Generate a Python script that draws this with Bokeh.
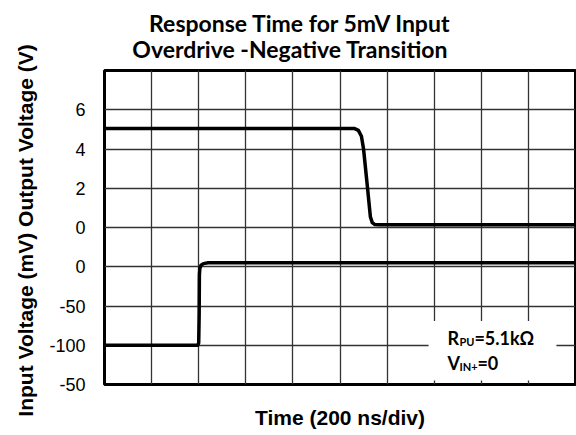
from bokeh.plotting import figure
from bokeh.models import Range1d, FixedTicker, Label, Title
from bokeh.embed import file_html
from bokeh.resources import INLINE

# ---- data ----
# output voltage (V) vs time (ns)
t_out = [0, 1060, 1078, 1091, 1100, 1117, 1129, 1137, 1148, 1165, 2000]
v_out = [5.05, 5.05, 4.95, 4.65, 4.0, 2.0, 0.55, 0.25, 0.15, 0.14, 0.14]
# input voltage (mV) vs time (ns)
t_in = [0, 396, 400, 402, 403, 405, 410, 420, 440, 2000]
v_in = [-100, -100, -97, -60, -10, -2, 2, 4, 5, 5]

# axis tick positions (grid rows) and labels
y_ticks = [0, 1, 2, 3, 4, 5, 6, 7]
y_tick_labels = ["-50", "-100", "-50", "0", "0", "2", "4", "6"]
x_divs = [200, 400, 600, 800, 1000, 1200, 1400, 1600, 1800]
y_rows = [1, 2, 3, 4, 5, 6, 7]

title_lines = ["Response Time for 5mV Input", "Overdrive -Negative Transition"]

p = figure(width=576, height=435, x_range=Range1d(0, 2000), y_range=Range1d(0, 8),
           output_backend="svg", toolbar_location=None, title=None,
           min_border_left=104, min_border_right=1, min_border_top=67, min_border_bottom=51)
p.extra_y_ranges = {"vout": Range1d(-8, 8), "vin": Range1d(-150, 250)}

p.outline_line_color = "black"
p.outline_line_width = 3
p.background_fill_color = "white"
p.border_fill_color = "white"

# grid
p.xgrid.ticker = FixedTicker(ticks=x_divs)
p.ygrid.ticker = FixedTicker(ticks=y_rows)
for g in (p.xgrid, p.ygrid):
    g.grid_line_color = "#333333"
    g.grid_line_width = 1.3
    g.grid_line_alpha = 1.0

# x axis
xa = p.xaxis[0]
xa.ticker = FixedTicker(ticks=[])
xa.axis_line_color = None
xa.major_tick_line_color = None
xa.minor_tick_line_color = None
xa.axis_label = "Time (200 ns/div)"
xa.axis_label_text_font = "Liberation Sans"
xa.axis_label_text_font_style = "bold"
xa.axis_label_text_font_size = "21px"
xa.axis_label_text_color = "black"
xa.axis_label_standoff = 21

# y axis
ya = p.yaxis[0]
ya.ticker = FixedTicker(ticks=y_ticks)
ya.major_label_overrides = {t: s for t, s in zip(y_ticks, y_tick_labels)}
ya.axis_line_color = None
ya.major_tick_line_color = None
ya.minor_tick_line_color = None
ya.major_tick_out = 0
ya.major_tick_in = 0
ya.major_label_standoff = 19
ya.major_label_text_font = "Liberation Sans"
ya.major_label_text_font_size = "18px"
ya.major_label_text_color = "black"
ya.axis_label = "Input Voltage (mV)  Output Voltage (V)"
ya.axis_label_text_font = "Liberation Sans"
ya.axis_label_text_font_style = "bold"
ya.axis_label_text_font_size = "21px"
ya.axis_label_text_color = "black"
ya.axis_label_standoff = 9

# two-line title (first line nudged right with no-break spaces)
pad = "\u00a0" * 3
p.add_layout(Title(text=pad + title_lines[0] + "\n" + title_lines[1], align="right", offset=124,
                   standoff=14, text_font="Lato", text_font_style="bold", text_font_size="23px",
                   text_line_height=0.94, text_color="black"), "above")

# annotation background box
p.quad(left=[1376], right=[1919], bottom=[0.1], top=[1.62],
       fill_color="white", line_color=None)

# traces
p.line(t_out, v_out, y_range_name="vout", line_color="black", line_width=3.5, line_join="round")
p.line(t_in, v_in, y_range_name="vin", line_color="black", line_width=3.5, line_join="round")

# annotation text
def lab(x, y, text, size, xo=0, yo=0):
    p.add_layout(Label(x=x, y=y, x_offset=xo, y_offset=yo, text=text,
                       text_align="left", text_baseline="alphabetic",
                       text_font="Lato", text_font_style="bold", text_font_size=size,
                       text_color="black"))

ax, ay1, ay2 = 1456, 1.185, 0.555
lab(ax, ay1, "R", "18px")
lab(ax, ay1, "PU", "11px", xo=12, yo=-4)
lab(ax, ay1, "=5.1k\u03a9", "18px", xo=27)
lab(ax, ay2, "V", "18px")
lab(ax, ay2, "IN+", "11px", xo=12, yo=-4)
lab(ax, ay2, "=0", "18px", xo=30)

open("out.html", "w").write(file_html(p, INLINE))
